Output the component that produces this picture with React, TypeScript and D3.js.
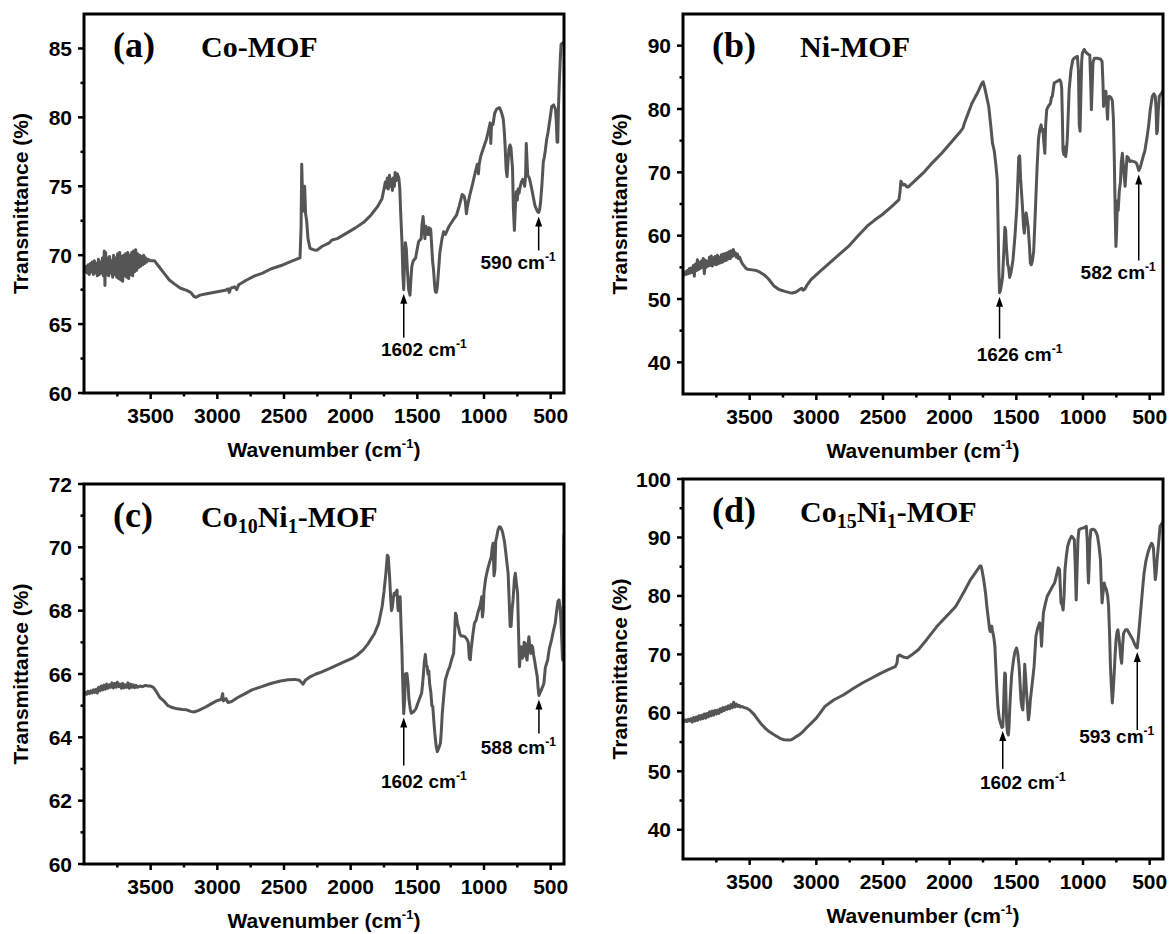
import React from 'react';
import * as d3 from 'd3';

type Pt = [number, number];

// FTIR spectra: [wavenumber (cm-1), transmittance (%)]
const coMOF: Pt[] = [
  [3999,69.0],[3990,68.8],[3982,69.2],[3975,68.7],[3968,69.3],[3960,68.6],[3952,69.4],[3945,68.8],[3938,69.5],[3930,68.6],
  [3922,69.6],[3915,68.7],[3908,69.4],[3900,68.5],[3892,69.7],[3885,68.6],[3878,69.5],[3870,68.7],[3862,69.8],[3855,68.5],
  [3848,70.3],[3843,67.8],[3838,70.2],[3830,68.6],[3822,69.8],[3815,68.5],[3808,69.9],[3800,68.7],[3792,69.6],[3785,68.4],
  [3778,70.0],[3770,68.6],[3762,69.8],[3755,68.4],[3748,70.1],[3740,68.3],[3732,70.2],[3725,68.2],[3718,69.9],[3710,68.1],
  [3702,70.0],[3695,68.5],[3688,70.1],[3680,68.4],[3672,70.2],[3665,68.3],[3658,70.0],[3650,68.6],[3642,70.2],[3635,68.5],
  [3628,70.3],[3620,68.8],[3612,70.4],[3605,68.9],[3598,70.1],[3590,69.1],[3582,70.0],[3575,69.2],[3568,69.9],[3560,69.3],
  [3552,70.0],[3545,69.4],[3538,69.8],[3530,69.5],[3520,69.7],[3505,69.6],
  [3472,69.6],[3440,69.2],[3400,68.7],[3360,68.2],[3320,67.9],[3276,67.6],[3230,67.45],[3200,67.3],[3175,67.0],[3160,66.95],
  [3130,67.1],[3080,67.2],[3000,67.35],[2940,67.45],[2920,67.55],[2910,67.3],[2900,67.6],[2870,67.7],[2855,67.5],[2840,67.85],
  [2780,68.2],[2720,68.5],[2660,68.7],[2600,69.0],[2521,69.25],[2460,69.5],[2395,69.75],[2380,69.8],[2372,72],[2367,76.6],
  [2360,74.0],[2352,73.2],[2345,75.0],[2338,73.0],[2330,72.5],[2320,71.2],[2305,70.5],[2280,70.4],[2255,70.35],[2213,70.65],
  [2160,70.9],[2140,71.1],[2101,71.2],[2030,71.6],[1961,72.0],[1900,72.4],[1849,72.9],[1800,73.5],[1765,74.1],[1750,74.8],
  [1740,75.3],[1732,74.9],[1725,75.6],[1718,74.8],[1709,75.8],[1700,75.0],[1693,75.5],[1687,74.7],[1680,75.6],[1672,75.0],
  [1667,76.0],[1660,75.4],[1650,75.9],[1639,75.6],[1632,74.9],[1625,73.1],[1615,70.9],[1608,68.5],[1602,67.5],[1596,69.5],
  [1590,70.9],[1583,70.5],[1575,69.0],[1565,67.5],[1555,67.1],[1548,68.3],[1541,69.2],[1530,69.6],[1513,69.8],[1500,70.5],
  [1490,71.0],[1471,71.2],[1465,72.2],[1457,72.8],[1450,72.0],[1443,71.2],[1436,72.1],[1429,71.8],[1420,71.5],[1413,72.0],
  [1407,71.5],[1400,71.9],[1393,70.8],[1385,69.5],[1379,69.0],[1370,67.8],[1365,67.35],[1358,67.3],[1351,67.6],[1340,69.0],
  [1331,70.2],[1315,71.2],[1303,71.7],[1290,71.5],[1262,72.1],[1235,72.5],[1206,72.9],[1185,73.6],[1164,74.4],[1150,74.3],
  [1140,73.9],[1132,73.0],[1125,73.5],[1108,74.3],[1085,75.2],[1066,76.0],[1050,76.6],[1042,75.9],[1036,76.6],[1024,77.2],
  [1000,77.9],[982,78.4],[965,79.1],[954,79.6],[949,78.1],[944,79.4],[932,79.5],[920,80.3],[905,80.6],[884,80.7],
  [870,80.4],[856,79.9],[848,79.0],[842,78.0],[834,76.2],[827,75.7],[820,76.8],[813,77.7],[805,78.0],[798,77.8],
  [792,77.0],[786,76.3],[780,73.5],[772,71.8],[765,73.5],[758,74.6],[750,74.0],[744,74.8],[737,74.5],[730,74.9],
  [720,75.3],[710,75.5],[702,75.3],[695,75.0],[688,75.8],[683,78.1],[678,77.0],[672,75.8],[660,75.6],[646,75.0],
  [630,74.2],[618,73.6],[605,73.3],[597,73.15],[590,73.1],[583,73.3],[576,73.8],[565,75.2],[555,76.8],[548,77.1],
  [540,77.6],[530,78.4],[520,78.9],[505,79.9],[492,80.8],[478,80.9],[464,80.6],[458,79.8],[452,78.2],[447,78.2],
  [442,80.5],[436,82.3],[428,84.2],[422,85.3],[410,85.4],[402,85.3]
];

const niMOF: Pt[] = [
  [3999,54.0],[3990,53.8],[3982,54.3],[3975,53.9],[3968,54.5],[3960,54.0],[3952,54.8],[3945,54.1],[3938,54.9],[3930,54.2],
  [3922,55.3],[3915,53.6],[3908,55.5],[3900,54.5],[3892,56.2],[3885,54.6],[3878,55.8],[3870,54.8],[3862,56.0],[3855,55.0],
  [3848,56.4],[3840,54.0],[3832,56.1],[3825,55.0],[3818,55.9],[3810,55.2],[3802,56.6],[3795,55.3],[3788,56.8],[3780,55.2],
  [3772,56.5],[3765,55.5],[3758,56.7],[3750,55.4],[3742,56.9],[3735,55.6],[3728,56.6],[3720,55.7],[3712,57.0],[3705,55.8],
  [3698,57.1],[3690,56.0],[3682,57.2],[3675,56.1],[3668,57.3],[3660,56.3],[3652,57.5],[3645,56.4],[3638,57.6],[3630,56.7],
  [3622,57.8],[3615,56.9],[3608,57.3],[3600,56.6],[3592,57.1],[3585,56.4],[3575,56.6],[3565,56.0],[3555,55.6],[3545,55.3],
  [3530,54.9],[3517,54.7],[3480,54.6],[3450,54.5],[3420,54.2],[3390,53.8],[3360,53.2],[3320,52.1],[3280,51.5],[3236,51.2],
  [3200,51.0],[3180,50.95],[3152,51.1],[3125,51.5],[3110,51.7],[3100,51.4],[3085,51.6],[3070,52.2],[3040,53.05],[2970,54.4],
  [2900,55.7],[2830,57.0],[2759,58.3],[2690,59.9],[2619,61.5],[2560,62.5],[2507,63.3],[2440,64.5],[2390,65.5],[2380,65.7],
  [2372,67.0],[2366,68.6],[2358,68.3],[2350,68.0],[2338,68.1],[2320,67.7],[2310,67.7],[2260,68.7],[2198,69.9],[2130,71.5],
  [2058,73.05],[1990,74.7],[1950,75.7],[1917,76.5],[1900,77.0],[1889,77.8],[1860,79.4],[1833,80.9],[1790,82.6],[1760,84.0],
  [1749,84.3],[1740,83.6],[1725,82.2],[1707,80.4],[1690,77.0],[1679,74.6],[1670,73.8],[1665,73.3],[1655,71.5],[1643,68.8],
  [1637,62.0],[1631,54.5],[1626,51.0],[1620,51.3],[1612,52.2],[1603,53.5],[1594,57.5],[1586,61.3],[1580,60.8],[1575,58.4],
  [1565,55.5],[1558,55.0],[1550,53.4],[1540,54.2],[1525,56.2],[1510,60.0],[1496,64.6],[1488,69.0],[1482,72.4],[1475,72.6],
  [1468,69.0],[1460,66.5],[1454,64.6],[1446,61.5],[1440,60.4],[1433,62.8],[1426,63.6],[1419,62.5],[1412,61.5],[1402,58.5],
  [1395,55.7],[1388,55.4],[1380,56.0],[1370,57.5],[1363,61.0],[1356,64.6],[1345,70.5],[1334,75.2],[1324,76.8],[1314,77.5],
  [1306,76.5],[1300,76.8],[1294,74.8],[1286,73.0],[1280,77.5],[1272,79.9],[1258,80.5],[1244,80.9],[1237,81.8],[1230,82.0],
  [1216,84.1],[1200,84.3],[1174,84.6],[1165,84.2],[1160,83.3],[1155,79],[1150,73.5],[1143,72.8],[1136,74.0],[1130,72.5],
  [1124,73.5],[1118,75.2],[1111,79],[1104,83.0],[1090,86.2],[1076,87.8],[1060,88.1],[1042,88.3],[1034,86],[1028,77.5],
  [1022,76.5],[1016,82],[1010,87.5],[1005,88.8],[991,89.4],[980,89.0],[969,88.8],[958,88.6],[949,88.5],[942,84],
  [937,79.9],[932,83],[925,87.4],[915,88.0],[893,88.0],[870,87.9],[857,87.5],[850,84],[846,80.4],[841,82.5],
  [835,81.0],[828,82.8],[820,79.8],[816,78.4],[810,81.5],[803,82.0],[790,81.8],[780,81.3],[772,78.5],[765,72.0],
  [758,63.0],[753,58.3],[748,60.5],[742,65.5],[736,64.0],[728,67.0],[719,68.5],[713,71.5],[705,73.0],[698,71.3],
  [691,69.4],[684,67.8],[677,70.2],[670,72.5],[660,72.3],[648,71.7],[635,71.8],[620,71.7],[608,71.6],[598,71.4],
  [590,70.9],[582,70.3],[574,70.6],[565,71.2],[555,72.0],[545,72.8],[537,73.3],[520,75.5],[508,77.3],[495,80.0],
  [480,82.0],[468,82.4],[458,82.0],[452,80.0],[447,76.1],[442,76.5],[436,79.5],[428,82.0],[415,82.4],[402,82.8]
];

const co10Ni1MOF: Pt[] = [
  [3999,65.38],[3990,65.42],[3980,65.36],[3970,65.45],[3960,65.38],[3950,65.47],[3940,65.40],[3930,65.50],[3920,65.42],[3910,65.52],
  [3900,65.40],[3890,65.58],[3880,65.47],[3870,65.62],[3860,65.50],[3850,65.65],[3840,65.52],[3830,65.68],[3820,65.55],[3810,65.66],
  [3800,65.58],[3790,65.72],[3780,65.56],[3770,65.70],[3760,65.58],[3750,65.74],[3740,65.60],[3730,65.68],[3720,65.55],[3710,65.70],
  [3700,65.56],[3690,65.66],[3680,65.58],[3670,65.72],[3660,65.55],[3650,65.68],[3640,65.58],[3630,65.66],[3620,65.57],[3610,65.64],
  [3600,65.58],[3580,65.62],[3560,65.60],[3540,65.64],[3520,65.62],[3500,65.62],
  [3480,65.58],[3458,65.45],[3430,65.25],[3401,65.15],[3370,65.0],[3345,64.95],[3300,64.9],[3260,64.88],[3230,64.87],[3200,64.82],
  [3175,64.80],[3140,64.85],[3091,64.95],[3050,65.05],[3006,65.15],[2985,65.18],[2970,65.2],[2960,65.38],[2955,65.15],[2935,65.22],
  [2920,65.1],[2893,65.13],[2850,65.25],[2809,65.34],[2740,65.5],[2667,65.6],[2600,65.7],[2526,65.78],[2470,65.82],[2420,65.83],
  [2385,65.8],[2370,65.74],[2357,65.68],[2340,65.8],[2301,65.92],[2260,66.0],[2216,66.07],[2160,66.17],[2103,66.28],[2050,66.38],
  [1990,66.49],[1950,66.6],[1906,66.76],[1870,66.95],[1821,67.28],[1790,67.6],[1764,68.13],[1750,68.6],[1736,69.18],[1725,69.75],
  [1718,69.7],[1708,69.07],[1700,68.4],[1694,68.0],[1688,68.1],[1680,68.4],[1674,68.55],[1665,68.5],[1658,68.6],[1652,68.65],
  [1646,68.1],[1643,68.0],[1636,68.3],[1629,68.44],[1622,67.5],[1616,66.8],[1610,65.8],[1602,64.75],[1595,65.2],[1590,66.0],
  [1584,65.8],[1578,66.02],[1570,65.7],[1563,65.2],[1553,64.9],[1545,64.76],[1530,64.8],[1511,64.9],[1490,65.15],[1468,65.39],
  [1460,65.7],[1454,66.02],[1447,66.4],[1440,66.62],[1433,66.3],[1426,66.23],[1420,66.0],[1414,66.1],[1408,65.7],[1398,65.39],
  [1391,65.0],[1384,64.97],[1376,64.5],[1369,64.13],[1358,63.7],[1350,63.55],[1340,63.65],[1327,63.81],[1320,64.2],[1313,64.76],
  [1300,65.4],[1290,65.81],[1270,66.1],[1257,66.23],[1240,66.5],[1228,66.65],[1220,67.3],[1214,67.92],[1207,67.85],[1200,67.6],
  [1190,67.45],[1182,67.28],[1172,67.2],[1160,67.2],[1144,67.18],[1128,67.1],[1118,67.0],[1110,66.5],[1103,66.45],[1096,66.8],
  [1085,67.2],[1072,67.6],[1059,67.7],[1045,67.95],[1031,68.13],[1022,68.3],[1017,68.44],[1012,67.8],[1006,68.0],[1000,68.6],
  [988,69.0],[974,69.28],[960,69.5],[946,69.7],[938,70.0],[932,70.13],[925,69.1],[918,69.3],[912,70.2],[904,70.34],
  [895,70.55],[884,70.65],[875,70.63],[862,70.5],[847,70.2],[833,69.7],[819,69.18],[810,68.2],[804,67.5],[797,67.5],
  [790,68.0],[782,68.34],[772,69.0],[765,69.18],[758,68.9],[748,68.55],[742,67.5],[734,66.23],[727,66.6],[720,66.86],
  [713,66.5],[706,66.55],[699,67.0],[692,66.97],[685,66.6],[677,66.44],[670,66.9],[663,67.18],[656,66.8],[649,66.65],
  [642,66.9],[636,66.86],[628,66.6],[621,66.44],[612,66.2],[601,65.92],[594,65.55],[588,65.32],[580,65.4],[570,65.5],
  [560,65.6],[551,65.7],[540,66.2],[523,66.44],[510,66.8],[494,67.07],[480,67.35],[466,67.6],[455,68.0],[445,68.3],
  [437,68.34],[430,68.1],[423,67.7],[416,67.0],[412,66.5],[409,66.44],[405,68.5],[400,70.4]
];

const co15Ni1MOF: Pt[] = [
  [3999,58.6],[3990,58.5],[3980,58.8],[3970,58.5],[3960,58.9],[3950,58.6],[3940,59.0],[3930,58.4],[3920,59.2],[3910,58.6],
  [3900,59.3],[3890,58.7],[3880,59.5],[3870,58.9],[3860,59.6],[3850,59.0],[3840,59.8],[3830,59.1],[3820,59.9],[3810,59.3],
  [3800,60.2],[3790,59.5],[3780,60.3],[3770,59.6],[3760,60.4],[3750,59.8],[3740,60.5],[3730,59.9],[3720,60.7],[3710,60.2],
  [3700,60.9],[3690,60.4],[3680,61.0],[3670,60.6],[3660,61.2],[3650,60.7],[3640,61.4],[3630,60.9],[3620,61.8],[3610,61.0],
  [3600,61.5],[3590,61.1],[3580,61.3],[3570,61.0],[3560,61.1],
  [3540,60.9],[3522,60.8],[3500,60.5],[3466,59.7],[3440,58.9],[3410,58.0],[3380,57.3],[3354,56.8],[3320,56.3],[3298,56.0],
  [3270,55.6],[3242,55.4],[3210,55.35],[3187,55.4],[3160,55.8],[3131,56.2],[3100,56.8],[3075,57.4],[3000,59.1],[2935,61.1],
  [2870,62.2],[2795,63.1],[2720,64.2],[2655,65.1],[2580,66.0],[2515,66.8],[2460,67.4],[2408,67.9],[2395,68.5],[2389,69.7],
  [2375,69.9],[2361,69.7],[2340,69.5],[2319,69.4],[2280,70.0],[2235,70.8],[2170,72.6],[2095,74.8],[2020,76.6],[1955,78.2],
  [1927,79.3],[1890,80.8],[1843,82.8],[1800,84.2],[1773,85.1],[1765,85.1],[1759,84.6],[1745,82.8],[1731,80.5],[1720,78.0],
  [1709,75.9],[1700,74.2],[1695,73.9],[1690,74.8],[1684,74.8],[1680,74.0],[1675,73.6],[1668,72.8],[1661,71.4],[1654,68.0],
  [1647,64.5],[1638,61.0],[1628,59.0],[1615,58.0],[1608,57.5],[1602,57.6],[1597,60.0],[1592,64.0],[1587,66.8],[1582,66.6],
  [1577,62.0],[1572,58.0],[1566,56.6],[1560,56.2],[1555,57.5],[1549,61.0],[1542,64.0],[1535,66.5],[1521,69.1],[1510,70.5],
  [1499,71.1],[1490,70.3],[1479,67.9],[1472,65.0],[1465,62.2],[1458,61.0],[1451,60.5],[1444,64.0],[1437,68.3],[1430,66.0],
  [1423,63.4],[1416,61.0],[1409,58.8],[1402,60.0],[1395,62.2],[1381,65.0],[1367,67.9],[1360,70.5],[1353,73.1],[1340,74.5],
  [1325,75.4],[1318,74.5],[1311,71.4],[1304,74.5],[1297,77.1],[1283,78.6],[1269,79.9],[1255,80.5],[1241,81.1],[1227,81.7],
  [1213,82.2],[1199,83.5],[1185,84.8],[1176,84.5],[1170,81.5],[1165,78.8],[1157,78.5],[1149,77.6],[1142,80],[1135,84.5],
  [1125,86.8],[1115,88.5],[1100,89.6],[1087,90.2],[1076,90.0],[1065,89.6],[1058,85],[1051,79.3],[1045,84],[1038,89.5],
  [1031,91.3],[1017,91.5],[1003,91.6],[989,91.7],[975,91.9],[968,89.5],[963,84.5],[959,82.2],[954,85],[948,89.5],
  [941,91.3],[927,91.4],[913,91.3],[900,90.8],[891,90.2],[880,88.5],[869,86.2],[863,82.0],[857,78.8],[850,80.5],
  [841,82.2],[833,81.5],[825,81.1],[815,80.0],[808,78.2],[800,73.0],[794,67.9],[787,64.5],[780,61.7],[773,64.0],
  [766,66.8],[759,70.0],[752,72.5],[745,73.8],[738,74.2],[731,73.0],[724,71.4],[717,69.5],[710,68.5],[703,71.5],
  [696,73.6],[682,74.2],[668,74.2],[650,73.5],[626,72.5],[610,71.6],[600,71.2],[593,71.1],[584,73.1],[573,76.0],
  [562,78.8],[552,81.5],[542,83.9],[528,86.0],[514,87.3],[500,88.3],[486,89.0],[479,88.8],[472,88.2],[465,85.5],
  [458,82.8],[451,84],[444,86.2],[433,89.0],[422,91.9],[405,92.5]
];

const xTicks = [3500, 3000, 2500, 2000, 1500, 1000, 500];
const xMinorTicks = [3750, 3250, 2750, 2250, 1750, 1250, 750];

const yTicksA = [60, 65, 70, 75, 80, 85];
const yMinorA = [62.5, 67.5, 72.5, 77.5, 82.5];
const yTicksB = [40, 50, 60, 70, 80, 90];
const yMinorB = [45, 55, 65, 75, 85];
const yTicksC = [60, 62, 64, 66, 68, 70, 72];
const yMinorC = [61, 63, 65, 67, 69, 71];
const yTicksD = [40, 50, 60, 70, 80, 90, 100];
const yMinorD = [45, 55, 65, 75, 85, 95];

// peak markers: wavenumber and label value
const peaksA = [1602, 590];
const peaksB = [1626, 582];
const peaksC = [1602, 588];
const peaksD = [1602, 593];

type Seg = { t: string; sub?: boolean };
type Ann = { len: number; mode: 'below' | 'left'; dy: number };

interface PanelSpec {
  tag: string;
  name: Seg[];
  data: Pt[];
  yDomain: [number, number];
  yTicks: number[];
  yMinor: number[];
  peaks: number[];
  annLayout: Ann[];
  box: { left: number; right: number; top: number; bottom: number };
}

const panels: PanelSpec[] = [
  {
    tag: '(a)', name: [{ t: 'Co-MOF' }], data: coMOF, yDomain: [60, 87.5],
    yTicks: yTicksA, yMinor: yMinorA, peaks: peaksA,
    annLayout: [{ len: 44, mode: 'below', dy: 18 }, { len: 34, mode: 'left', dy: 19 }],
    box: { left: 84, right: 564, top: 14, bottom: 393 },
  },
  {
    tag: '(b)', name: [{ t: 'Ni-MOF' }], data: niMOF, yDomain: [35, 95],
    yTicks: yTicksB, yMinor: yMinorB, peaks: peaksB,
    annLayout: [{ len: 42, mode: 'below', dy: 22 }, { len: 86, mode: 'left', dy: 19 }],
    box: { left: 683, right: 1163, top: 14, bottom: 394 },
  },
  {
    tag: '(c)', name: [{ t: 'Co' }, { t: '10', sub: true }, { t: 'Ni' }, { t: '1', sub: true }, { t: '-MOF' }],
    data: co10Ni1MOF, yDomain: [60, 72],
    yTicks: yTicksC, yMinor: yMinorC, peaks: peaksC,
    annLayout: [{ len: 48, mode: 'below', dy: 22 }, { len: 34, mode: 'left', dy: 20 }],
    box: { left: 84, right: 564, top: 484, bottom: 864 },
  },
  {
    tag: '(d)', name: [{ t: 'Co' }, { t: '15', sub: true }, { t: 'Ni' }, { t: '1', sub: true }, { t: '-MOF' }],
    data: co15Ni1MOF, yDomain: [35, 100],
    yTicks: yTicksD, yMinor: yMinorD, peaks: peaksD,
    annLayout: [{ len: 38, mode: 'below', dy: 20 }, { len: 78, mode: 'left', dy: 13 }],
    box: { left: 683, right: 1163, top: 479, bottom: 859 },
  },
];

const SANS = 'Arial, "Liberation Sans", Helvetica, sans-serif';
const SERIF = '"Times New Roman", "Liberation Serif", Times, serif';
const CURVE = '#555555';

function valueAt(data: Pt[], wn: number): number {
  for (let i = 0; i < data.length - 1; i++) {
    const [x0, y0] = data[i];
    const [x1, y1] = data[i + 1];
    if (x0 >= wn && wn >= x1) {
      const t = x0 === x1 ? 0 : (x0 - wn) / (x0 - x1);
      return y0 + t * (y1 - y0);
    }
  }
  return data[data.length - 1][1];
}

function Panel({ p, idx }: { p: PanelSpec; idx: number }) {
  const { left, right, top, bottom } = p.box;
  const x = d3.scaleLinear().domain([4000, 400]).range([left, right]);
  const y = d3.scaleLinear().domain(p.yDomain).range([bottom, top]);
  const line = d3.line<Pt>().x(d => x(d[0])).y(d => y(d[1]));
  const clipId = `clip-${idx}`;
  const midY = (top + bottom) / 2;
  const midX = (left + right) / 2;

  return (
    <g>
      <defs>
        <clipPath id={clipId}>
          <rect x={left} y={top} width={right - left} height={bottom - top} />
        </clipPath>
      </defs>

      {/* spectrum */}
      <path d={line(p.data) || ''} fill="none" stroke={CURVE} strokeWidth={3}
        strokeLinejoin="round" strokeLinecap="round" clipPath={`url(#${clipId})`} />

      {/* frame */}
      <rect x={left} y={top} width={right - left} height={bottom - top}
        fill="none" stroke="#000" strokeWidth={3} />

      {/* x ticks */}
      {xTicks.map(t => (
        <g key={`xt${t}`}>
          <line x1={x(t)} x2={x(t)} y1={bottom} y2={bottom + 6} stroke="#000" strokeWidth={2.5} />
          <text x={x(t)} y={bottom + 30} textAnchor="middle" fontFamily={SANS}
            fontWeight="bold" fontSize={21} fill="#000">{t}</text>
        </g>
      ))}
      {xMinorTicks.map(t => (
        <line key={`xm${t}`} x1={x(t)} x2={x(t)} y1={bottom} y2={bottom + 3.5} stroke="#000" strokeWidth={2.5} />
      ))}

      {/* y ticks */}
      {p.yTicks.map(t => (
        <g key={`yt${t}`}>
          <line x1={left - 6} x2={left} y1={y(t)} y2={y(t)} stroke="#000" strokeWidth={2.5} />
          <text x={left - 12} y={y(t)} dy="0.36em" textAnchor="end" fontFamily={SANS}
            fontWeight="bold" fontSize={21} fill="#000">{t}</text>
        </g>
      ))}
      {p.yMinor.map(t => (
        <line key={`ym${t}`} x1={left - 3.5} x2={left} y1={y(t)} y2={y(t)} stroke="#000" strokeWidth={2.5} />
      ))}

      {/* axis titles */}
      <text x={midX} y={bottom + 64} textAnchor="middle" fontFamily={SANS}
        fontWeight="bold" fontSize={21} fill="#000">
        Wavenumber (cm<tspan fontSize={13} dy={-9}>-1</tspan><tspan dy={9}>)</tspan>
      </text>
      <text transform={`translate(${left - 64},${midY}) rotate(-90)`} textAnchor="middle"
        dy="0.36em" fontFamily={SANS} fontWeight="bold" fontSize={21} fill="#000">
        Transmittance (%)
      </text>

      {/* panel tag and sample name */}
      <text x={left + 29} y={top + 43} fontFamily={SERIF} fontWeight="bold" fontSize={36} fill="#000">
        {p.tag}
      </text>
      <text x={left + 117} y={top + 43} fontFamily={SERIF} fontWeight="bold" fontSize={30} fill="#000">
        {p.name.map((s, i) => {
          const prev = i > 0 ? p.name[i - 1] : null;
          let dy = 0;
          if (s.sub) dy = 6;
          else if (prev && prev.sub) dy = -6;
          return (
            <tspan key={i} dy={dy} fontSize={s.sub ? 20 : 30}>{s.t}</tspan>
          );
        })}
      </text>

      {/* peak annotations */}
      {p.peaks.map((wn, i) => {
        const a = p.annLayout[i];
        const ax = x(wn);
        const head = y(valueAt(p.data, wn)) + 4;
        const tail = head + a.len;
        const labelX = a.mode === 'below' ? ax + 20 : ax + 17;
        const anchor = a.mode === 'below' ? 'middle' : 'end';
        return (
          <g key={`ann${wn}`}>
            <line x1={ax} x2={ax} y1={head + 7} y2={tail} stroke="#000" strokeWidth={1.5} />
            <path d={`M${ax},${head} L${ax - 3.5},${head + 10} L${ax + 3.5},${head + 10} Z`} fill="#000" />
            <text x={labelX} y={tail + a.dy} textAnchor={anchor} fontFamily={SANS}
              fontWeight="bold" fontSize={19} fill="#000">
              {wn} cm<tspan fontSize={12} dy={-8}>-1</tspan>
            </text>
          </g>
        );
      })}
    </g>
  );
}

export default function App() {
  return (
    <svg width={1172} height={934} viewBox="0 0 1172 934"
      style={{ position: 'absolute', left: 0, top: 0, background: '#fff' }}>
      <rect x={0} y={0} width={1172} height={934} fill="#fff" />
      {panels.map((p, i) => <Panel key={p.tag} p={p} idx={i} />)}
    </svg>
  );
}
